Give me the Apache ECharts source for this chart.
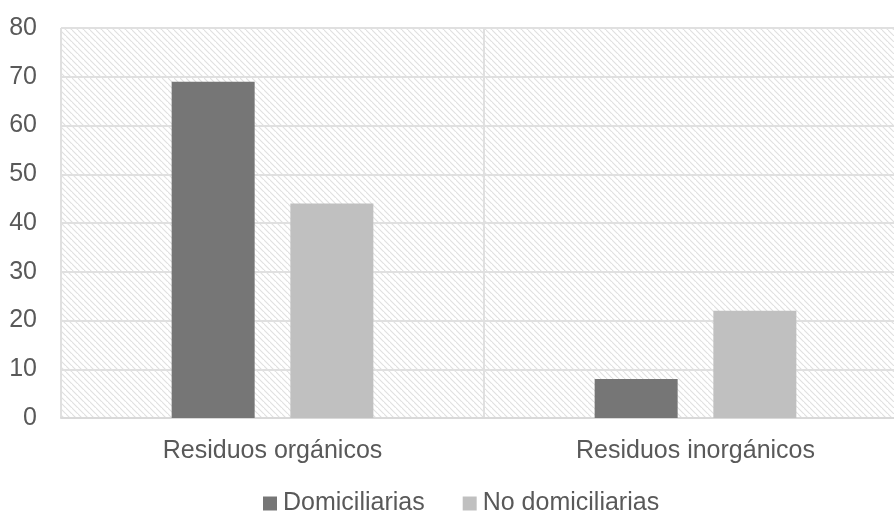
<!DOCTYPE html>
<html>
<head>
<meta charset="utf-8">
<script src="https://cdn.jsdelivr.net/npm/echarts@6/dist/echarts.min.js"></script>
<style>
  html, body { margin: 0; padding: 0; background: #fff; }
  #chart { width: 894px; height: 512px; }
</style>
</head>
<body>
<div id="chart"></div>
<script>
// Residue types and counts by household status
const categories = ['Residuos orgánicos', 'Residuos inorgánicos'];
const seriesNames = ['Domiciliarias', 'No domiciliarias'];
const domiciliarias = [69, 8];
const noDomiciliarias = [44, 22];
const yTicks = [0, 10, 20, 30, 40, 50, 60, 70, 80];

// Diagonal hatch tile for the plot background
function hatchTile() {
  const s = 6;
  const c = document.createElement('canvas');
  c.width = s; c.height = s;
  const g = c.getContext('2d');
  g.fillStyle = '#ffffff';
  g.fillRect(0, 0, s, s);
  g.strokeStyle = '#e0e0e0';
  g.lineWidth = 1.1;
  g.beginPath();
  g.moveTo(-1, -1); g.lineTo(s + 1, s + 1);
  g.moveTo(-s - 1, -1); g.lineTo(1, s + 1);
  g.moveTo(s - 1, -s - 1); g.lineTo(2 * s + 1, s + 1);
  g.stroke();
  return c;
}

const chart = echarts.init(document.getElementById('chart'), null, { renderer: 'canvas' });
const font = 'Liberation Sans, Arial, sans-serif';
chart.setOption({
  animation: false,
  textStyle: { fontFamily: font },
  grid: {
    left: 61, top: 28, width: 846, height: 390,
    outerBoundsMode: 'none',
    containLabel: false,
    show: true,
    backgroundColor: { image: hatchTile(), repeat: 'repeat' },
    borderWidth: 0
  },
  legend: {
    data: seriesNames,
    top: 491,
    left: 263,
    padding: 0,
    icon: 'rect',
    itemWidth: 14,
    itemHeight: 14,
    itemGap: 38,
    textStyle: { color: '#595959', fontSize: 25, fontFamily: font, padding: [0, 0, 0, 1] }
  },
  xAxis: {
    type: 'category',
    data: categories,
    boundaryGap: true,
    axisLine: { show: true, lineStyle: { color: '#d9d9d9', width: 2 } },
    axisTick: { show: false },
    splitLine: { show: true, lineStyle: { color: '#e0e0e0', width: 2 } },
    axisLabel: { color: '#595959', fontSize: 25, margin: 21, fontFamily: font }
  },
  yAxis: {
    type: 'value',
    min: yTicks[0],
    max: yTicks[yTicks.length - 1],
    interval: 10,
    axisLine: { show: false },
    axisTick: { show: false },
    splitLine: { show: true, lineStyle: { color: '#e0e0e0', width: 2 } },
    axisLabel: { color: '#595959', fontSize: 25, margin: 24, fontFamily: font }
  },
  series: [
    {
      name: seriesNames[0],
      type: 'bar',
      data: domiciliarias,
      barWidth: 83,
      barGap: '43%',
      itemStyle: { color: '#767676' }
    },
    {
      name: seriesNames[1],
      type: 'bar',
      data: noDomiciliarias,
      barWidth: 83,
      barGap: '43%',
      itemStyle: { color: '#c0c0c0' }
    }
  ]
});
</script>
</body>
</html>
